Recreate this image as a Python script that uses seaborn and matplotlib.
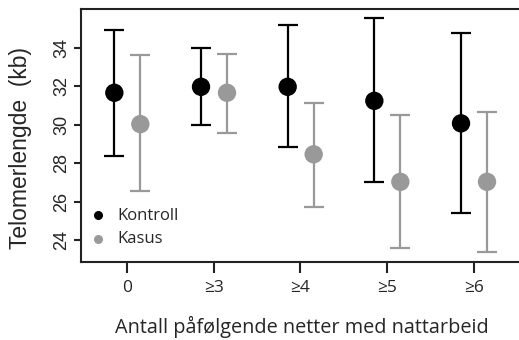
import numpy as np
import pandas as pd
import matplotlib
matplotlib.use("Agg")
import matplotlib.pyplot as plt
import seaborn as sns

# ── Data ────────────────────────────────────────────────────
categories = ["0", "≥3", "≥4", "≥5", "≥6"]

kontroll_mean = [31.66, 31.97, 31.97, 31.24, 30.07]
kontroll_low  = [28.38, 29.96, 28.85, 27.00, 25.39]
kontroll_high = [34.92, 34.00, 35.18, 35.53, 34.75]

kasus_mean = [30.03, 31.66, 28.46, 27.03, 27.03]
kasus_low  = [26.56, 29.58, 25.73, 23.57, 23.40]
kasus_high = [33.60, 33.70, 31.11, 30.50, 30.67]

groups = ["Kontroll", "Kasus"]
colors = {"Kontroll": "black", "Kasus": "#999999"}
offsets = {"Kontroll": -0.145, "Kasus": 0.155}

rows = []
for g, m, lo, hi in [("Kontroll", kontroll_mean, kontroll_low, kontroll_high),
                     ("Kasus", kasus_mean, kasus_low, kasus_high)]:
    for i, cat in enumerate(categories):
        rows.append({"gruppe": g, "kat": cat, "pos": i + offsets[g],
                     "mean": m[i], "low": lo[i], "high": hi[i]})
df = pd.DataFrame(rows)

# ── Style ───────────────────────────────────────────────────
sns.set_style("ticks")
plt.rcParams['font.family'] = ['Open Sans', 'DejaVu Sans']

fig = plt.figure(figsize=(5.19, 3.40), dpi=100)
ax = fig.add_axes([0.156, 0.230, 0.850, 0.7426])

# error bars
for g in groups:
    sub = df[df.gruppe == g]
    ax.errorbar(sub["pos"], sub["mean"],
                yerr=[sub["mean"] - sub["low"], sub["high"] - sub["mean"]],
                fmt="none", ecolor=colors[g], elinewidth=1.6,
                capsize=7.5, capthick=1.6, zorder=2)

# points
sns.scatterplot(data=df, x="pos", y="mean", hue="gruppe", palette=colors,
                hue_order=groups, s=175, edgecolor="none", ax=ax,
                zorder=3, legend=False)

# legend
for g in groups:
    ax.scatter([], [], s=30, color=colors[g], label=g)
ax.legend(loc="lower left", bbox_to_anchor=(-0.03, 0.005), frameon=False,
          fontsize=12, handletextpad=0.2, labelspacing=0.45,
          borderaxespad=0.4, scatterpoints=1)

ax.set_xlim(-0.53, 4.56)
ax.set_ylim(22.87, 36.0)
ax.set_xticks(range(len(categories)))
ax.set_xticklabels(categories, fontsize=12.5)
ax.set_yticks([24, 26, 28, 30, 32, 34])
ax.set_yticklabels(["24", "26", "28", "30", "32", "34"], fontsize=13,
                   rotation=90, va="center", family="Liberation Sans")
ax.tick_params(axis="x", length=8, width=1.5, color="#222222", pad=5)
ax.tick_params(axis="y", length=5, width=1.5, color="#222222", pad=3)

for s in ax.spines.values():
    s.set_linewidth(1.5)
    s.set_color("#222222")

ax.set_xlabel("Antall påfølgende netter med nattarbeid", fontsize=14.3,
              labelpad=14.5)
ax.set_ylabel("Telomerlengde  (kb)", fontsize=16.5, family="Liberation Sans")
ax.yaxis.set_label_coords(-0.11, 0.452)

fig.savefig("out.png", dpi=100)
